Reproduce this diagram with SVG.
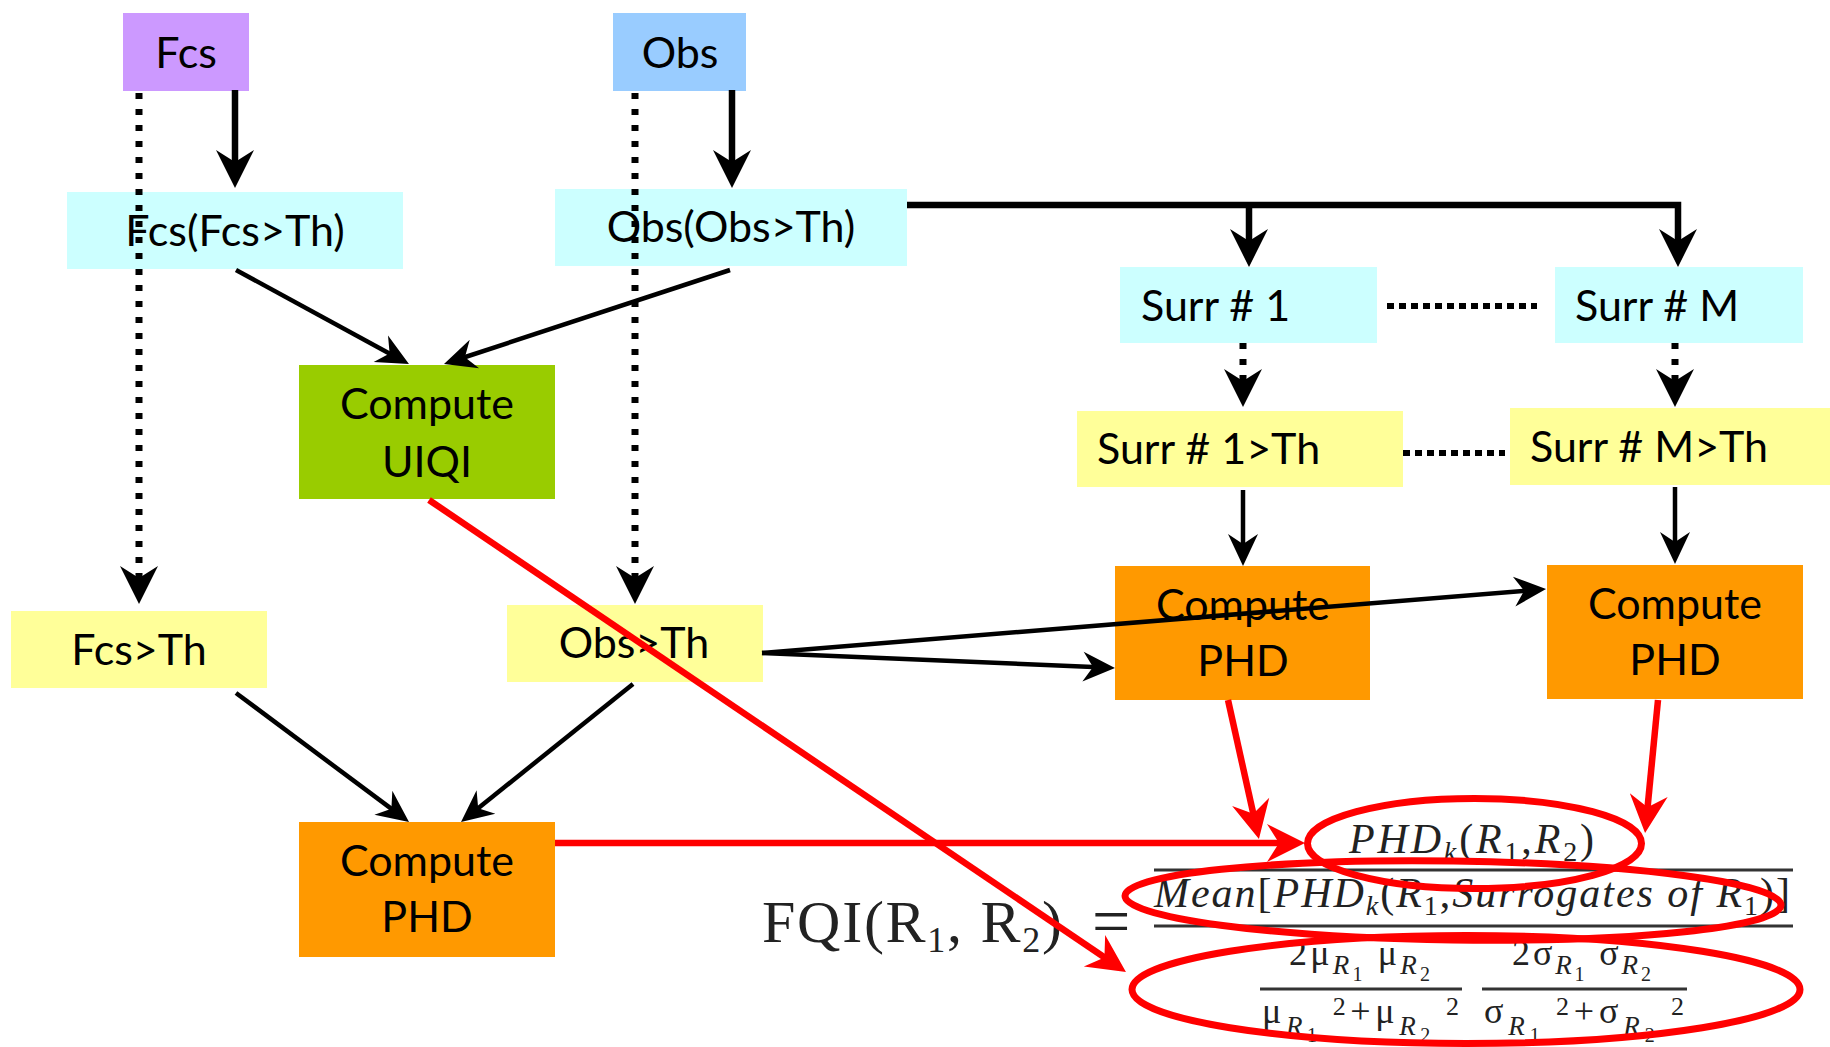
<svg xmlns="http://www.w3.org/2000/svg" width="1830" height="1047" viewBox="0 0 1830 1047">
<style>
.box text{font-family:Lato,"Liberation Sans",sans-serif;font-size:43px;fill:#000}
.c{text-anchor:middle}
.thick{stroke:#000;stroke-width:6.5;fill:none}
.thin{stroke:#000;stroke-width:4.5;fill:none}
.dotv{stroke:#000;stroke-width:7;stroke-dasharray:6 10;fill:none}
.doth{stroke:#000;stroke-width:6;stroke-dasharray:7 5;fill:none}
.red{stroke:#f00;stroke-width:6.5;fill:none}
.ell{stroke:#f00;stroke-width:7;fill:none}
.math{font-family:"Liberation Serif","Times New Roman",serif;fill:#222}
.it{font-style:italic}
.bar{stroke:#333;stroke-width:3}
</style>
<defs>
<marker id="ahL" markerUnits="userSpaceOnUse" viewBox="-40 -20 42 40" markerWidth="42" markerHeight="40" refX="-20" refY="0" orient="auto" overflow="visible"><path d="M0,0 L-38,-19 L-26,0 L-38,19 Z" fill="#000"/></marker>
<marker id="ahM" markerUnits="userSpaceOnUse" viewBox="-34 -16 36 32" markerWidth="36" markerHeight="32" refX="-16" refY="0" orient="auto" overflow="visible"><path d="M0,0 L-32,-15 L-22,0 L-32,15 Z" fill="#000"/></marker>
<marker id="ahR" markerUnits="userSpaceOnUse" viewBox="-40 -20 42 40" markerWidth="42" markerHeight="40" refX="-20" refY="0" orient="auto" overflow="visible"><path d="M0,0 L-38,-19 L-26,0 L-38,19 Z" fill="#f00"/></marker>
</defs>
<rect width="1830" height="1047" fill="#fff"/>

<g id="n-fcs" class="box"><rect x="123" y="13" width="126" height="78" fill="#CC99FF"/><text class="c" x="186" y="68">Fcs</text></g>
<g id="n-obs" class="box"><rect x="613" y="13" width="133" height="78" fill="#99CCFF"/><text class="c" x="680" y="68">Obs</text></g>
<g id="n-fcsfcsth" class="box"><rect x="67" y="192" width="336" height="77" fill="#CCFFFF"/><text class="c" x="235" y="246">Fcs(Fcs&gt;Th)</text></g>
<g id="n-obsobsth" class="box"><rect x="555" y="189" width="352" height="77" fill="#CCFFFF"/><text class="c" x="731" y="242">Obs(Obs&gt;Th)</text></g>
<g id="n-uiqi" class="box"><rect x="299" y="365" width="256" height="134" fill="#99CC00"/><text class="c" x="427" y="419">Compute</text><text class="c" x="427" y="477">UIQI</text></g>
<g id="n-surr1" class="box"><rect x="1120" y="267" width="257" height="76" fill="#CCFFFF"/><text x="1141" y="321">Surr # 1</text></g>
<g id="n-surrm" class="box"><rect x="1555" y="267" width="248" height="76" fill="#CCFFFF"/><text x="1575" y="321">Surr # M</text></g>
<g id="n-surr1th" class="box"><rect x="1077" y="411" width="326" height="76" fill="#FFFF99"/><text x="1097" y="464">Surr # 1&gt;Th</text></g>
<g id="n-surrmth" class="box"><rect x="1510" y="408" width="320" height="77" fill="#FFFF99"/><text x="1530" y="462">Surr # M&gt;Th</text></g>
<g id="n-phd1" class="box"><rect x="1115" y="566" width="255" height="134" fill="#FF9900"/><text class="c" x="1243" y="620">Compute</text><text class="c" x="1243" y="676">PHD</text></g>
<g id="n-phdm" class="box"><rect x="1547" y="565" width="256" height="134" fill="#FF9900"/><text class="c" x="1675" y="619">Compute</text><text class="c" x="1675" y="675">PHD</text></g>
<g id="n-fcsth" class="box"><rect x="11" y="611" width="256" height="77" fill="#FFFF99"/><text class="c" x="139" y="665">Fcs&gt;Th</text></g>
<g id="n-obsth" class="box"><rect x="507" y="605" width="256" height="77" fill="#FFFF99"/><text class="c" x="634" y="658">Obs&gt;Th</text></g>
<g id="n-phd0" class="box"><rect x="299" y="822" width="256" height="135" fill="#FF9900"/><text class="c" x="427" y="876">Compute</text><text class="c" x="427" y="932">PHD</text></g>

<g id="formula" class="math">
<text x="762" y="942" font-size="60" textLength="300" lengthAdjust="spacing">FQI(R<tspan font-size="36" dy="10">1</tspan><tspan dy="-10">, R</tspan><tspan font-size="36" dy="10">2</tspan><tspan dy="-10">)</tspan></text>
<text x="1092" y="944" font-size="68">=</text>
<line class="bar" x1="1154" y1="870" x2="1793" y2="870"/>
<line class="bar" x1="1154" y1="926" x2="1793" y2="926"/>
<text x="1349" y="853" font-size="42" textLength="245" lengthAdjust="spacing"><tspan class="it">PHD</tspan><tspan class="it" font-size="28" dy="8">k</tspan><tspan dy="-8">(</tspan><tspan class="it">R</tspan><tspan font-size="28" dy="8">1</tspan><tspan dy="-8">,</tspan><tspan class="it">R</tspan><tspan font-size="28" dy="8">2</tspan><tspan dy="-8">)</tspan></text>
<text x="1154" y="907" font-size="42" textLength="636" lengthAdjust="spacing"><tspan class="it">Mean</tspan>[<tspan class="it">PHD</tspan><tspan class="it" font-size="28" dy="8">k</tspan><tspan dy="-8">(</tspan><tspan class="it">R</tspan><tspan font-size="28" dy="8">1</tspan><tspan dy="-8">,</tspan><tspan class="it">Surrogates of  R</tspan><tspan font-size="28" dy="8">1</tspan><tspan dy="-8">)]</tspan></text>
<line class="bar" x1="1260" y1="989" x2="1462" y2="989"/>
<line class="bar" x1="1482" y1="989" x2="1687" y2="989"/>
<text x="1289" y="965" font-size="36" textLength="141" lengthAdjust="spacing">2μ<tspan class="it" font-size="27" dy="9">R</tspan><tspan font-size="20" dy="7">1</tspan><tspan dy="-16"> μ</tspan><tspan class="it" font-size="27" dy="9">R</tspan><tspan font-size="20" dy="7">2</tspan></text>
<text x="1512" y="965" font-size="36" textLength="139" lengthAdjust="spacing">2σ<tspan class="it" font-size="27" dy="9">R</tspan><tspan font-size="20" dy="7">1</tspan><tspan dy="-16"> σ</tspan><tspan class="it" font-size="27" dy="9">R</tspan><tspan font-size="20" dy="7">2</tspan></text>
<text x="1262" y="1023" font-size="36" textLength="197" lengthAdjust="spacing">μ<tspan class="it" font-size="27" dy="12">R</tspan><tspan font-size="20" dy="7">1</tspan><tspan font-size="26" dy="-27"> 2</tspan><tspan dy="8">+μ</tspan><tspan class="it" font-size="27" dy="12">R</tspan><tspan font-size="20" dy="7">2</tspan><tspan font-size="26" dy="-27"> 2</tspan></text>
<text x="1484" y="1023" font-size="36" textLength="200" lengthAdjust="spacing">σ<tspan class="it" font-size="27" dy="12">R</tspan><tspan font-size="20" dy="7">1</tspan><tspan font-size="26" dy="-27"> 2</tspan><tspan dy="8">+σ</tspan><tspan class="it" font-size="27" dy="12">R</tspan><tspan font-size="20" dy="7">2</tspan><tspan font-size="26" dy="-27"> 2</tspan></text>
</g>

<g id="connectors">
<line class="thick" x1="235" y1="90" x2="235" y2="168" marker-end="url(#ahL)"/>
<line class="thick" x1="732" y1="90" x2="732" y2="168" marker-end="url(#ahL)"/>
<line class="dotv" x1="139" y1="93" x2="139" y2="584" marker-end="url(#ahL)"/>
<line class="dotv" x1="635" y1="93" x2="635" y2="584" marker-end="url(#ahL)"/>
<line class="thin" x1="236" y1="270" x2="394.9" y2="356.4" marker-end="url(#ahM)"/>
<line class="thin" x1="730" y1="270" x2="459.2" y2="359" marker-end="url(#ahM)"/>
<path class="thick" d="M907,205 H1678 V247" marker-end="url(#ahL)"/>
<line class="thick" x1="1249" y1="205" x2="1249" y2="247" marker-end="url(#ahL)"/>
<line class="doth" x1="1387" y1="306" x2="1537" y2="306"/>
<line class="dotv" x1="1243" y1="343" x2="1243" y2="387" marker-end="url(#ahL)"/>
<line class="dotv" x1="1675" y1="343" x2="1675" y2="387" marker-end="url(#ahL)"/>
<line class="doth" x1="1403" y1="453" x2="1505" y2="453"/>
<line class="thin" x1="1243" y1="490" x2="1243" y2="550" marker-end="url(#ahM)"/>
<line class="thin" x1="1675" y1="487" x2="1675" y2="548" marker-end="url(#ahM)"/>
<line class="thin" x1="762" y1="653" x2="1530.1" y2="590.3" marker-end="url(#ahM)"/>
<line class="thin" x1="762" y1="653" x2="1099" y2="667.3" marker-end="url(#ahM)"/>
<line class="thin" x1="236" y1="693" x2="396.2" y2="812.4" marker-end="url(#ahM)"/>
<line class="thin" x1="633" y1="684" x2="473.5" y2="812" marker-end="url(#ahM)"/>
<line class="red" x1="429" y1="500" x2="1109.4" y2="960.8" marker-end="url(#ahR)"/>
<line class="red" x1="555" y1="843" x2="1285" y2="843" marker-end="url(#ahR)"/>
<line class="red" x1="1228" y1="700" x2="1254.6" y2="819.5" marker-end="url(#ahR)"/>
<line class="red" x1="1658" y1="700" x2="1647" y2="813.1" marker-end="url(#ahR)"/>
<ellipse class="ell" cx="1474.5" cy="843.5" rx="167" ry="45"/>
<ellipse class="ell" cx="1453" cy="900.5" rx="328" ry="39.5" transform="rotate(0.8 1453 900.5)"/>
<ellipse class="ell" cx="1466" cy="989.5" rx="334" ry="54"/>
</g>
</svg>
